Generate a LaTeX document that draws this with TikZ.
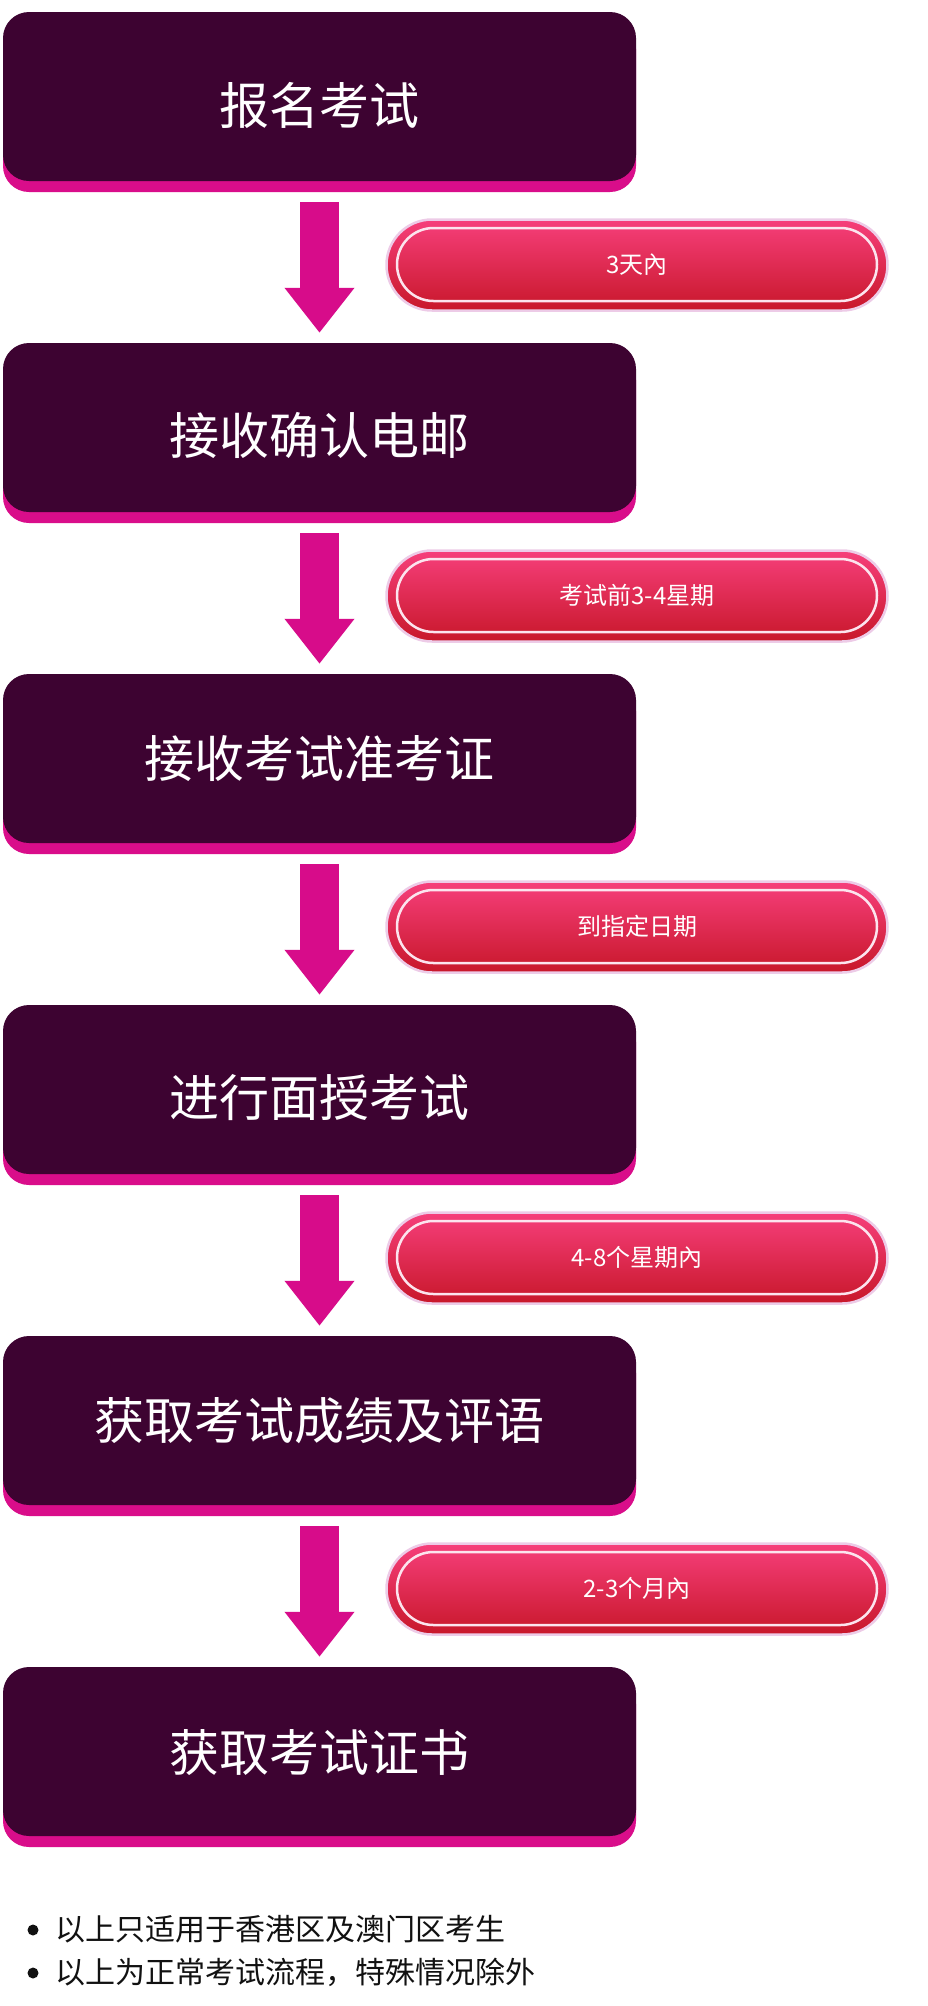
\documentclass[tikz,border=0pt]{standalone}
\usepackage{fontspec}
\setmainfont{Noto Sans CJK SC}
\usetikzlibrary{arrows.meta,shadows}
\definecolor{boxc}{HTML}{3D0331}
\definecolor{pinkc}{HTML}{D90D8A}
\definecolor{arrc}{HTML}{D70C8A}
\definecolor{pilltop}{HTML}{F63F7B}
\definecolor{pillmid}{HTML}{E73262}
\definecolor{pillbot}{HTML}{C8172A}
\definecolor{haloc}{HTML}{EDCBE7}
\definecolor{ringc}{HTML}{FCE4EE}
\definecolor{notec}{HTML}{111111}
\tikzset{
  stepbox/.style={fill=boxc, rounded corners=26pt, minimum width=633pt, minimum height=169pt, inner sep=0pt,
    drop shadow={shadow xshift=0pt, shadow yshift=-11pt, fill=pinkc, opacity=1}},
  boxtext/.style={text=white, font=\fontsize{50}{60}\selectfont, inner sep=0pt},
  pillbox/.style={top color=pilltop, middle color=pillmid, bottom color=pillbot, draw=haloc, line width=2.5pt,
    rounded corners=45.5pt, minimum width=501pt, minimum height=91pt, inner sep=0pt},
  pillring/.style={draw=ringc, line width=2.5pt, rounded corners=36.5pt, minimum width=480pt, minimum height=73pt,
    inner sep=0pt, text=white, font=\fontsize{24}{28}\selectfont},
  flowarrow/.style={draw=arrc, line width=39pt, line cap=butt, -{Triangle[width=67pt,length=45pt]}},
  notetext/.style={text=notec, font=\fontsize{30}{36}\selectfont, inner sep=0pt, anchor=west},
  bulletdot/.style={circle, fill=notec, minimum size=11pt, inner sep=0pt}
}
\begin{document}
\begin{tikzpicture}[x=1pt,y=-1pt]
\fill[white] (0,0) rectangle (927,2006);
\useasboundingbox (0,0) rectangle (927,2006);

% steps
\node[stepbox] (b1) at (319.5,96.5) {};
\node[stepbox] (b2) at (319.5,427.5) {};
\node[stepbox] (b3) at (319.5,758.5) {};
\node[stepbox] (b4) at (319.5,1089.5) {};
\node[stepbox] (b5) at (319.5,1420.5) {};
\node[stepbox] (b6) at (319.5,1751.5) {};

\node[boxtext] (t1) at ([yshift=-8.5pt]b1.center) {报名考试};
\node[boxtext] (t2) at ([yshift=-8pt]b2.center) {接收确认电邮};
\node[boxtext] (t3) at ([yshift=0pt]b3.center) {接收考试准考证};
\node[boxtext] (t4) at ([yshift=-8pt]b4.center) {进行面授考试};
\node[boxtext] (t5) at ([yshift=0pt]b5.center) {获取考试成绩及评语};
\node[boxtext] (t6) at ([yshift=-1.5pt]b6.center) {获取考试证书};

% arrows
\draw[flowarrow] ([yshift=-21pt]b1.south) -- ([yshift=10pt]b2.north);
\draw[flowarrow] ([yshift=-21pt]b2.south) -- ([yshift=10pt]b3.north);
\draw[flowarrow] ([yshift=-21pt]b3.south) -- ([yshift=10pt]b4.north);
\draw[flowarrow] ([yshift=-21pt]b4.south) -- ([yshift=10pt]b5.north);
\draw[flowarrow] ([yshift=-21pt]b5.south) -- ([yshift=10pt]b6.north);

% time pills
\node[pillbox] (p1) at (637,265) {};
\node[pillbox] (p2) at (637,596) {};
\node[pillbox] (p3) at (637,927) {};
\node[pillbox] (p4) at (637,1258) {};
\node[pillbox] (p5) at (637,1589) {};
\node[pillring] (r1) at ([yshift=0.5pt]p1.center) {3天內};
\node[pillring] (r2) at ([yshift=0.5pt]p2.center) {考试前3-4星期};
\node[pillring] (r3) at ([yshift=0.5pt]p3.center) {到指定日期};
\node[pillring] (r4) at ([yshift=0.5pt]p4.center) {4-8个星期內};
\node[pillring] (r5) at ([yshift=0.5pt]p5.center) {2-3个月內};

% notes
\node[bulletdot] (d1) at (33,1930) {};
\node[bulletdot] (d2) at (33,1973) {};
\node[notetext] (n1) at (55,1929) {以上只适用于香港区及澳门区考生};
\node[notetext] (n2) at (55,1972) {以上为正常考试流程，特殊情况除外};
\end{tikzpicture}
\end{document}
